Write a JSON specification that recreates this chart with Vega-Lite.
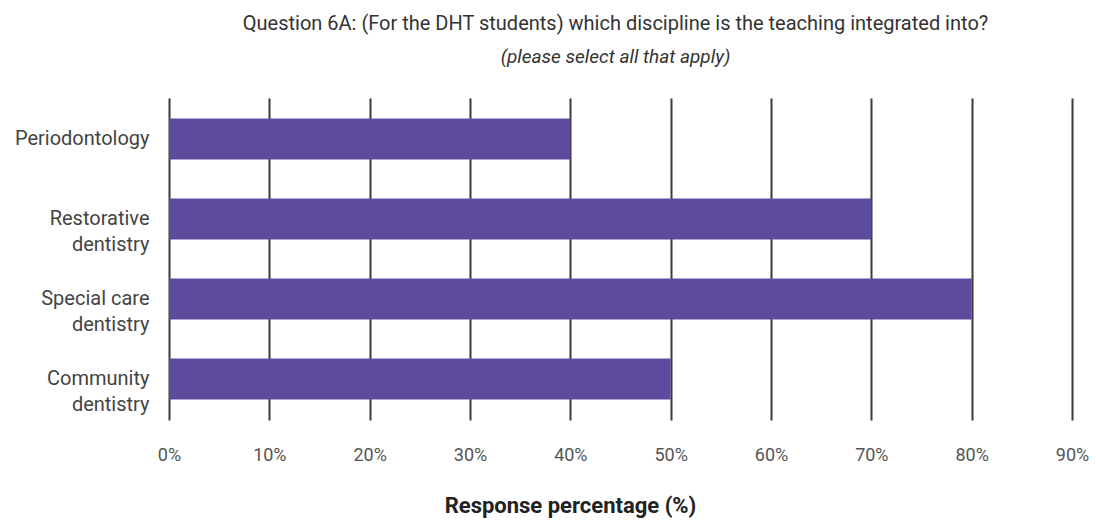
{
  "$schema": "https://vega.github.io/schema/vega-lite/v6.json",
  "width": 903,
  "height": 322,
  "autosize": {"type": "none"},
  "padding": {"left": 169, "top": 98, "right": 24, "bottom": 101},
  "background": "white",
  "title": {
    "text": "Question 6A: (For the DHT students) which discipline is the teaching integrated into?",
    "subtitle": "(please select all that apply)",
    "anchor": "middle",
    "frame": "group",
    "offset": 31,
    "font": "Roboto",
    "fontSize": 20,
    "fontWeight": "normal",
    "color": "#333333",
    "subtitleFont": "Roboto",
    "subtitleFontSize": 19,
    "subtitleFontStyle": "italic",
    "subtitleColor": "#333333",
    "subtitlePadding": 14,
    "dx": -5
  },
  "data": {
    "values": [
      {"discipline": "Periodontology", "pct": 40},
      {"discipline": "Restorative dentistry", "pct": 70},
      {"discipline": "Special care dentistry", "pct": 80},
      {"discipline": "Community dentistry", "pct": 50}
    ]
  },
  "mark": {"type": "bar", "color": "#5d4c9e"},
  "encoding": {
    "y": {
      "field": "discipline",
      "type": "nominal",
      "sort": null,
      "scale": {"paddingInner": 0.4875, "paddingOuter": 0.256},
      "axis": {
        "title": null,
        "domain": false,
        "ticks": false,
        "grid": false,
        "labelPadding": 20,
        "labelFont": "Roboto",
        "labelFontSize": 20,
        "labelColor": "#444444",
        "labelLineHeight": 26,
        "labelExpr": "indexof(datum.label, ' dentistry') > 0 ? [replace(datum.label, ' dentistry', ''), 'dentistry'] : datum.label"
      }
    },
    "x": {
      "field": "pct",
      "type": "quantitative",
      "scale": {"domain": [0, 90], "nice": false},
      "axis": {
        "values": [0, 10, 20, 30, 40, 50, 60, 70, 80, 90],
        "labelExpr": "datum.value + '%'",
        "labelFlush": false,
        "domain": false,
        "ticks": false,
        "grid": true,
        "gridColor": "#3a3a3a",
        "gridWidth": 2,
        "gridOpacity": 1,
        "labelPadding": 26,
        "labelFont": "Roboto",
        "labelFontSize": 18,
        "labelColor": "#555555",
        "title": "Response percentage (%)",
        "titleFont": "Roboto",
        "titleFontSize": 22,
        "titleFontWeight": "bold",
        "titleColor": "#222222",
        "titlePadding": 31,
        "titleX": 401
      }
    }
  },
  "config": {"view": {"stroke": null}}
}
